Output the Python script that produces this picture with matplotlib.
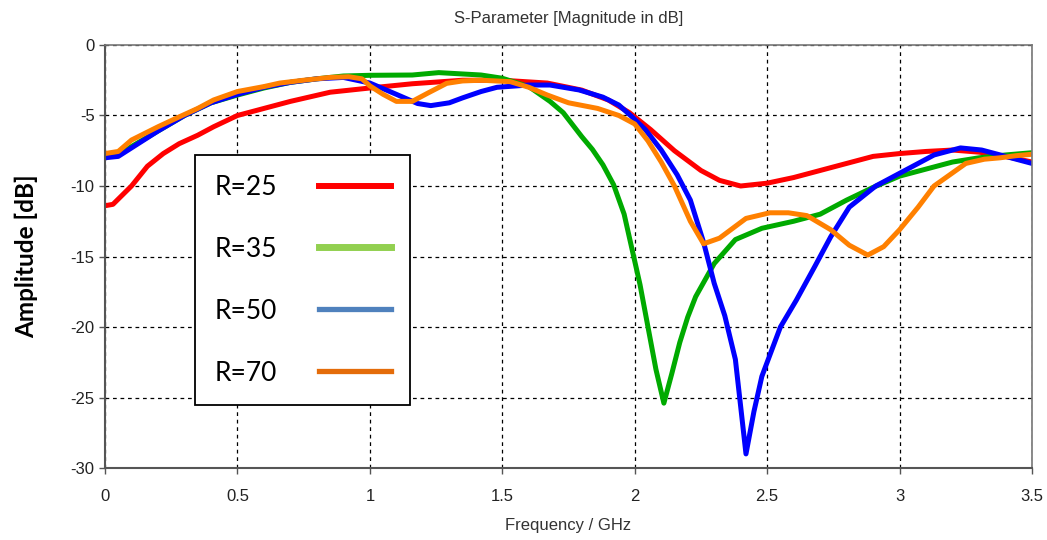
import matplotlib
matplotlib.use('Agg')
import matplotlib.pyplot as plt
from matplotlib.lines import Line2D

plt.rcParams['axes.unicode_minus'] = False
narrow = ['Liberation Sans', 'DejaVu Sans']

# R=25
f_r25 = [0, 0.03, 0.1, 0.16, 0.22, 0.28, 0.35, 0.41, 0.5, 0.6, 0.7, 0.85, 1.0, 1.16, 1.35, 1.5,
         1.67, 1.8, 1.9, 1.98, 2.06, 2.15, 2.25, 2.32, 2.4, 2.5, 2.6, 2.7, 2.8, 2.9, 3.0, 3.1,
         3.2, 3.3, 3.4, 3.5]
s_r25 = [-11.4, -11.3, -10.0, -8.6, -7.7, -7.0, -6.4, -5.8, -5.0, -4.5, -4.0, -3.35, -3.05, -2.75,
         -2.5, -2.5, -2.7, -3.2, -3.9, -4.8, -6.0, -7.5, -8.9, -9.6, -10.0, -9.8, -9.4, -8.9, -8.4,
         -7.9, -7.7, -7.55, -7.45, -7.6, -7.9, -8.3]

# R=35
f_r35 = [0, 0.05, 0.1, 0.2, 0.3, 0.4, 0.5, 0.6, 0.7, 0.8, 0.9, 1.0, 1.16, 1.26, 1.42, 1.5, 1.6,
         1.68, 1.73, 1.8, 1.84, 1.88, 1.92, 1.96, 1.99, 2.02, 2.05, 2.08, 2.11, 2.14, 2.17, 2.2,
         2.23, 2.3, 2.38, 2.48, 2.6, 2.7, 2.8, 2.9, 3.0, 3.1, 3.2, 3.3, 3.4, 3.5]
s_r35 = [-7.9, -7.8, -7.2, -6.1, -5.0, -4.1, -3.55, -3.05, -2.65, -2.4, -2.2, -2.15, -2.13, -1.96,
         -2.13, -2.36, -2.95, -4.0, -4.8, -6.5, -7.4, -8.5, -9.9, -12.0, -14.5, -17.0, -20.0, -23.0,
         -25.4, -23.3, -21.1, -19.3, -17.85, -15.5, -13.8, -13.0, -12.5, -12.0, -11.0, -10.1, -9.3,
         -8.8, -8.3, -8.0, -7.8, -7.64]

# R=50
f_r50 = [0, 0.05, 0.1, 0.2, 0.3, 0.4, 0.5, 0.6, 0.7, 0.8, 0.9, 1.0, 1.1, 1.18, 1.23, 1.3, 1.35,
         1.42, 1.48, 1.6, 1.68, 1.79, 1.88, 1.94, 1.99, 2.04, 2.1, 2.16, 2.21, 2.26, 2.3, 2.34,
         2.38, 2.42, 2.45, 2.48, 2.52, 2.55, 2.61, 2.68, 2.74, 2.81, 2.91, 3.0, 3.13, 3.23, 3.31,
         3.4, 3.5]
s_r50 = [-8.0, -7.9, -7.3, -6.1, -5.0, -4.1, -3.5, -3.0, -2.65, -2.4, -2.3, -2.7, -3.5, -4.15,
         -4.3, -4.1, -3.75, -3.3, -3.0, -2.84, -2.84, -3.19, -3.7, -4.26, -5.1, -6.0, -7.45, -9.2,
         -11.0, -14.0, -16.9, -19.2, -22.3, -29.0, -26.0, -23.5, -21.5, -20.0, -18.1, -15.7, -13.6,
         -11.5, -10.0, -9.1, -7.8, -7.3, -7.45, -7.9, -8.4]

# R=70
f_r70 = [0, 0.05, 0.1, 0.2, 0.28, 0.35, 0.41, 0.5, 0.6, 0.66, 0.75, 0.85, 0.92, 0.97, 1.0, 1.05,
         1.1, 1.16, 1.22, 1.29, 1.35, 1.42, 1.53, 1.6, 1.67, 1.75, 1.86, 1.94, 2.0, 2.05, 2.1,
         2.15, 2.21, 2.26, 2.32, 2.42, 2.51, 2.58, 2.65, 2.74, 2.81, 2.88, 2.94, 3.0, 3.07, 3.13,
         3.19, 3.25, 3.32, 3.38, 3.44, 3.5]
s_r70 = [-7.7, -7.55, -6.74, -5.8, -5.1, -4.5, -3.9, -3.3, -2.95, -2.7, -2.5, -2.3, -2.25, -2.4,
         -2.9, -3.5, -4.0, -4.0, -3.4, -2.72, -2.55, -2.5, -2.6, -3.0, -3.55, -4.1, -4.5, -5.0,
         -5.6, -6.8, -8.3, -10.0, -12.5, -14.1, -13.7, -12.3, -11.9, -11.9, -12.1, -13.1, -14.2,
         -14.9, -14.3, -13.1, -11.5, -10.0, -9.2, -8.4, -8.1, -8.0, -7.85, -7.75]

labels = ['R=25', 'R=35', 'R=50', 'R=70']
line_colors = ['#ff0000', '#00aa00', '#0000ff', '#ff8000']
legend_colors = ['#ff0000', '#92d050', '#4f81bd', '#e46c0a']
legend_widths = [4.3, 5.0, 3.8, 3.8]

fig = plt.figure(figsize=(10.47, 5.4), dpi=100)
ax = fig.add_axes([0.1003, 0.1333, 0.8854, 0.7834])

for f, s, c in zip([f_r25, f_r35, f_r50, f_r70], [s_r25, s_r35, s_r50, s_r70], line_colors):
    ax.plot(f, s, color=c, lw=3.6, solid_capstyle='round', solid_joinstyle='round')

ax.set_xlim(0, 3.5)
ax.set_ylim(-30, 0)
ax.set_xticks([0, 0.5, 1, 1.5, 2, 2.5, 3, 3.5])
ax.set_xticklabels(['0', '0.5', '1', '1.5', '2', '2.5', '3', '3.5'])
ax.set_yticks([0, -5, -10, -15, -20, -25, -30])
ax.grid(True, color='black', linestyle=(0, (3, 3)), linewidth=0.9)
ax.tick_params(direction='out', length=4, width=1, color='#555555', labelcolor='#222222', labelsize=12)
ax.tick_params(axis='x', pad=11)
for lab in ax.get_xticklabels() + ax.get_yticklabels():
    lab.set_family(narrow)
for side in ['left', 'bottom']:
    ax.spines[side].set_color('#555555')
    ax.spines[side].set_linewidth(1.5)
for side in ['top', 'right']:
    ax.spines[side].set_color('#777777')
    ax.spines[side].set_linewidth(1.2)

ax.set_title('S-Parameter [Magnitude in dB]', family=narrow, fontsize=12, color='#333333', pad=16)
ax.set_xlabel('Frequency / GHz', family=narrow, fontsize=12, color='#333333', labelpad=10)
ax.set_ylabel('Amplitude [dB]', family=['Lato', 'DejaVu Sans'], fontsize=17.5, fontweight='bold',
              labelpad=23)

handles = [Line2D([], [], color=c, lw=w) for c, w in zip(legend_colors, legend_widths)]
leg = ax.legend(handles, labels, loc='upper left', bbox_to_anchor=(0.097, 0.740), borderaxespad=0,
                markerfirst=False, fancybox=False, framealpha=1, edgecolor='black',
                prop={'family': ['Lato', 'DejaVu Sans'], 'size': 19},
                handlelength=2.7, handletextpad=1.6, labelspacing=1.4, borderpad=0.75)
leg.get_frame().set_linewidth(1.3)

fig.savefig('out.png', dpi=100)
